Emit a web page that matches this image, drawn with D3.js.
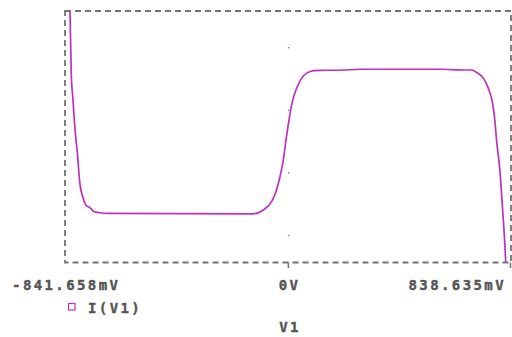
<!DOCTYPE html>
<html>
<head>
<meta charset="utf-8">
<script src="https://cdn.jsdelivr.net/npm/d3@7"></script>
<style>
  body { margin: 0; background: #fff; }
  text { font-family: "DejaVu Sans Mono", monospace; font-weight: bold; font-size: 14px; fill: #555; letter-spacing: 2.4px; stroke: #555; stroke-width: 0.4px; }
</style>
</head>
<body>
<div id="chart"></div>
<script>
/* global d3 */

var w = 512,
h = 337;

// sweep of V1 (mV) and I(V1) (arbitrary units)
var sweepV = [-826, -822.8, -817.9, -811.5, -806.6, -800.2, -795.3, -786.3, -773.8, -762.5, -747.5, -733.5, -709.8, -683.4,
  -133.4, -95.7, -62.9, -46.7, -31.6, -19.2, -9.0, 2.3, 14.7, 31.3, 50.1, 69.0, 96.4, 119.0, 194.4, 269.8, 571.2, 665.4,
  690.6, 709.4, 734.3, 753.1, 768.2, 775.7, 784.8, 797.2, 805.9, 813.4, 818.7, 822];
var currentI = [2.4, 2.08, 1.06, 0.66, 0.34, 0.02, -0.17, -0.65, -0.90, -1.02, -1.06, -1.12, -1.14, -1.15,
  -1.157, -1.10, -0.96, -0.80, -0.565, -0.30, 0.02, 0.34, 0.63, 0.85, 1.01, 1.09, 1.13, 1.135, 1.136, 1.152, 1.152, 1.14,
  1.14, 1.10, 1.01, 0.85, 0.63, 0.42, -0.006, -0.485, -1.02, -1.50, -1.93, -2.3];

var xDomain = [-841.658, 838.635];
var xTicks = [-841.658, 0, 838.635];
var xTickLabels = ['-841.658mV', '0V', '838.635mV'];
var yDomain = [-1.935, 2.082];
var yGrid = [-1.5, -0.5, 0.5, 1.5];

var seriesName = 'I(V1)',
axisTitle = 'V1';

var svg = d3.select('#chart').
append('svg').
attr('width', w).
attr('height', h);

var x = d3.scaleLinear().domain(xDomain).range([65, 511]);
var y = d3.scaleLinear().domain(yDomain).range([262.5, 11]);

svg.append('clipPath').
attr('id', 'plotClip').
append('rect').
attr('x', 65).
attr('y', 11).
attr('width', 446).
attr('height', 251.5);

// grid dots on the 0V line
svg.selectAll('rect.dot').
data(yGrid).
enter().
append('rect').
attr('class', 'dot').
attr('x', x(0) - 0.5).
attr('y', d => y(d) - 0.5).
attr('width', 1.5).
attr('height', 1.5).
attr('fill', '#888');

// trace
var line = d3.line().
curve(d3.curveMonotoneX).
x(d => x(d[0])).
y(d => y(d[1]));

svg.append('path').
datum(d3.zip(sweepV, currentI)).
attr('clip-path', 'url(#plotClip)').
attr('d', line).
attr('fill', 'none').
attr('stroke', '#c030c0').
attr('stroke-width', 1.7);

// dashed frame
svg.append('rect').
attr('x', x.range()[0]).
attr('y', y.range()[1]).
attr('width', x.range()[1] - x.range()[0]).
attr('height', y.range()[0] - y.range()[1]).
attr('fill', 'none').
attr('stroke', '#737373').
attr('stroke-width', 1.8).
attr('stroke-dasharray', '6,4');

// tick marks below the frame
svg.selectAll('line.tick').
data(xTicks.slice(1)).
enter().
append('line').
attr('class', 'tick').
attr('x1', d => Math.min(x(d), 510.5)).
attr('x2', d => Math.min(x(d), 510.5)).
attr('y1', 262.5).
attr('y2', 268).
attr('stroke', '#737373').
attr('stroke-width', 1.5);

// tick labels
svg.selectAll('text.xlab').
data(xTicks).
enter().
append('text').
attr('class', 'xlab').
attr('x', (d, i) => i === 2 ? 506 : x(d) + 1.2).
attr('y', 289.5).
attr('text-anchor', (d, i) => i === 2 ? 'end' : 'middle').
text((d, i) => xTickLabels[i]);

// legend
svg.append('rect').
attr('x', 68.5).
attr('y', 303.5).
attr('width', 6.5).
attr('height', 6.5).
attr('fill', 'none').
attr('stroke', '#c030c0').
attr('stroke-width', 1.2);

svg.append('text').
attr('x', 88).
attr('y', 313).
text(seriesName);

svg.append('text').
attr('x', 290).
attr('y', 331.5).
attr('text-anchor', 'middle').
text(axisTitle);
</script>
</body>
</html>
